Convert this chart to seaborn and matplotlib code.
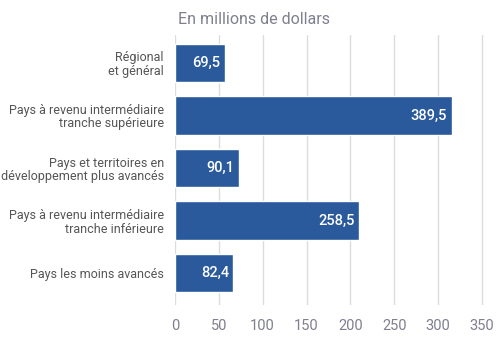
import matplotlib
matplotlib.use("Agg")
import matplotlib.pyplot as plt
import seaborn as sns
import pandas as pd

categories = ["Régional\net général",
              "Pays à revenu intermédiaire\ntranche supérieure",
              "Pays et territoires en\ndéveloppement plus avancés",
              "Pays à revenu intermédiaire\ntranche inférieure",
              "Pays les moins avancés"]
# bar lengths as drawn against the axis
bar_lengths = [56.5, 315.5, 73.0, 209.5, 66.5]
# value labels printed on the bars
value_labels = ["69,5", "389,5", "90,1", "258,5", "82,4"]
xticks = [0, 50, 100, 150, 200, 250, 300, 350]

sns.set_theme(style="white")
plt.rcParams['font.family'] = ['Roboto', 'DejaVu Sans']

df = pd.DataFrame({"cat": categories, "val": bar_lengths})

fig = plt.figure(figsize=(5, 3.46), dpi=100)
ax = fig.add_axes([0.35, 0.118, 0.64, 0.781])
ax.set_axisbelow(True)
for t in xticks:
    ax.axvline(t, color="#dcdcdc", lw=1, zorder=0)
sns.barplot(data=df, x="val", y="cat", orient="h", color="#2a5a9c",
            saturation=1, width=0.73, ax=ax, zorder=2)
for i, (v, lab) in enumerate(zip(bar_lengths, value_labels)):
    ax.text(v - 5, i, lab, color="white", ha="right", va="center",
            fontsize=10.5, fontweight="medium", zorder=3)
ax.set_xlim(0, 365)
ax.set_ylim(4.61, -0.533)
ax.set_xticks(xticks)
ax.set_xticklabels([str(t) for t in xticks], color="#7f7f8f", fontsize=10.5)
ax.tick_params(axis="x", length=0, pad=10)
ax.tick_params(axis="y", length=0, pad=8)
for lbl in ax.get_yticklabels():
    lbl.set_color("#555555")
    lbl.set_fontsize(9)
    lbl.set_linespacing(1.05)
    lbl.set_multialignment("right")
ax.set_xlabel("")
ax.set_ylabel("")
for s in ax.spines.values():
    s.set_visible(False)
fig.text(0.356, 0.945, "En millions de dollars", color="#7f7f8f",
         fontsize=11.5, ha="left", va="center")
fig.savefig("out.png", dpi=100)
